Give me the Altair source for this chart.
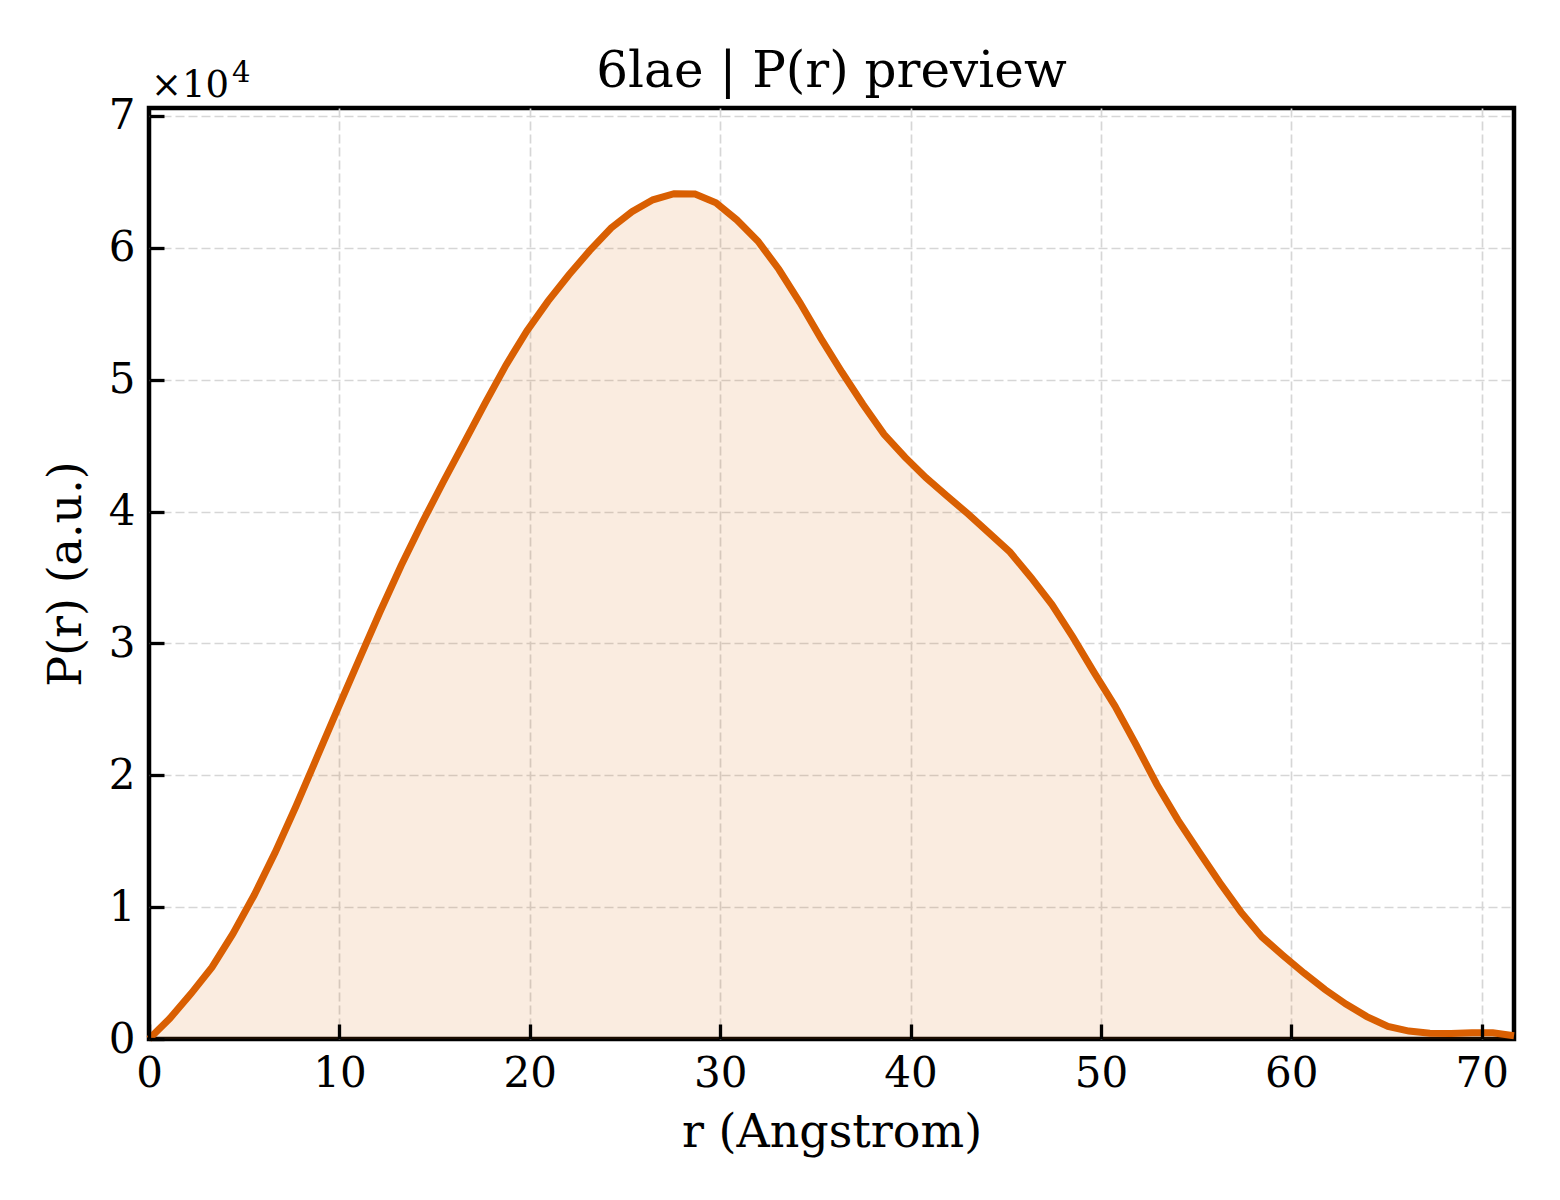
import altair as alt
import pandas as pd

# r (Angstrom) sample positions
r_values = [0.00, 1.10, 2.21, 3.31, 4.41, 5.52, 6.62, 7.72, 8.82, 9.93,
            11.03, 12.13, 13.24, 14.34, 15.44, 16.55, 17.65, 18.75, 19.85, 20.96,
            22.06, 23.16, 24.27, 25.37, 26.47, 27.58, 28.68, 29.78, 30.88, 31.99,
            33.09, 34.19, 35.30, 36.40, 37.50, 38.61, 39.71, 40.81, 41.91, 43.02,
            44.12, 45.22, 46.33, 47.43, 48.53, 49.64, 50.74, 51.84, 52.94, 54.05,
            55.15, 56.25, 57.36, 58.46, 59.56, 60.67, 61.77, 62.87, 63.97, 65.08,
            66.18, 67.28, 68.39, 69.49, 70.59, 71.70]

# P(r) values (a.u.)
p_values = [0, 1570, 3440, 5450, 7990, 10900, 14130, 17650, 21350, 25100,
            28750, 32380, 35890, 39130, 42200, 45200, 48200, 51100, 53700, 55950,
            57950, 59800, 61500, 62730, 63640, 64100, 64070, 63420, 62110, 60500,
            58350, 55850, 53110, 50560, 48140, 45860, 44120, 42560, 41180, 39820,
            38380, 36930, 35000, 32950, 30470, 27800, 25250, 22330, 19300, 16600,
            14200, 11850, 9620, 7740, 6350, 5000, 3750, 2650, 1700, 960,
            600, 440, 420, 470, 480, 250]

x_ticks = [0, 10, 20, 30, 40, 50, 60, 70]
y_ticks = [0, 10000, 20000, 30000, 40000, 50000, 60000, 70000]
x_grid = [10, 20, 30, 40, 50, 60, 70]
y_grid = [10000, 20000, 30000, 40000, 50000, 60000, 70000]

title_text = "6lae | P(r) preview"
x_title = "r (Angstrom)"
y_title = "P(r) (a.u.)"
offset_base = "×10"
offset_exp = "4"

df = pd.DataFrame({"r": r_values, "P": p_values})

FONT = "DejaVu Serif"
COLOR = "#d95f02"
W, H = 1365, 931

xscale = alt.Scale(domain=[0, 71.7], nice=False, zero=False)
yscale = alt.Scale(domain=[0, 70600], nice=False, zero=False)

main_x_axis = alt.Axis(
    orient="bottom", values=x_ticks, format="d", title=x_title, ticks=False,
    tickSize=0, domain=False, grid=False, labelFont=FONT, labelFontSize=42,
    labelColor="black", labelPadding=14, labelFlush=False, labelOverlap=False,
    titleFont=FONT, titleFontSize=46, titleFontWeight="normal", titleColor="black",
    titleBaseline="alphabetic", titleY=107,
)
main_y_axis = alt.Axis(
    orient="left", values=y_ticks, labelExpr="datum.value / 10000", title=y_title,
    ticks=False, tickSize=0, domain=False, grid=False, labelFont=FONT,
    labelFontSize=42, labelColor="black", labelPadding=14, labelOverlap=False,
    titleFont=FONT, titleFontSize=46, titleFontWeight="normal", titleColor="black",
    titleBaseline="alphabetic", titleX=-69, titleAngle=-90,
)
grid_x_axis = alt.Axis(
    orient="bottom", values=x_grid, ticks=False, labels=False, domain=False,
    title=None, grid=True, gridColor="#d6d6d6", gridDash=[9, 4], gridWidth=1.7,
    zindex=0,
)
grid_y_axis = alt.Axis(
    orient="left", values=y_grid, ticks=False, labels=False, domain=False,
    title=None, grid=True, gridColor="#d6d6d6", gridDash=[9, 4], gridWidth=1.7,
    zindex=0,
)
tick_x_axis = alt.Axis(
    values=x_ticks, orient="bottom", offset=-15, tickSize=15, tickWidth=3.3,
    tickColor="black", labels=False, domain=False, grid=False, title=None, zindex=2,
)
tick_y_axis = alt.Axis(
    values=y_ticks, orient="left", offset=-15, tickSize=15, tickWidth=3.3,
    tickColor="black", labels=False, domain=False, grid=False, title=None, zindex=2,
)

grid_layer = alt.Chart(df).mark_line(opacity=0).encode(
    x=alt.X("r:Q", scale=xscale, axis=grid_x_axis),
    y=alt.Y("P:Q", scale=yscale, axis=grid_y_axis),
)
area = alt.Chart(df).mark_area(color=COLOR, opacity=0.12, interpolate="linear").encode(
    x=alt.X("r:Q", scale=xscale, axis=main_x_axis),
    y=alt.Y("P:Q", scale=yscale, axis=main_y_axis),
)
line = alt.Chart(df).mark_line(color=COLOR, strokeWidth=7, interpolate="linear").encode(
    x=alt.X("r:Q", scale=xscale, axis=tick_x_axis),
    y=alt.Y("P:Q", scale=yscale, axis=tick_y_axis),
)
offset_label = alt.Chart(pd.DataFrame({"t": [offset_base]})).mark_text(
    font=FONT, fontSize=37, align="left", baseline="alphabetic", color="black"
).encode(text="t:N", x=alt.value(2), y=alt.value(-11))
offset_power = alt.Chart(pd.DataFrame({"t": [offset_exp]})).mark_text(
    font=FONT, fontSize=29, align="left", baseline="alphabetic", color="black"
).encode(text="t:N", x=alt.value(83), y=alt.value(-26))
title_mark = alt.Chart(pd.DataFrame({"t": [title_text]})).mark_text(
    font=FONT, fontSize=50, align="center", baseline="alphabetic", color="black"
).encode(text="t:N", x=alt.value(W / 2), y=alt.value(-21))

chart = alt.layer(grid_layer, area, line, offset_label, offset_power, title_mark).resolve_axis(
    x="independent", y="independent"
).properties(
    width=W, height=H,
    autosize=alt.AutoSizeParams(type="none"),
    padding={"left": 141, "top": 100, "right": 30, "bottom": 130},
).configure(background="white").configure_view(stroke="black", strokeWidth=4.5)

chart.save("out.html", embed_options={"renderer": "svg", "actions": False})
